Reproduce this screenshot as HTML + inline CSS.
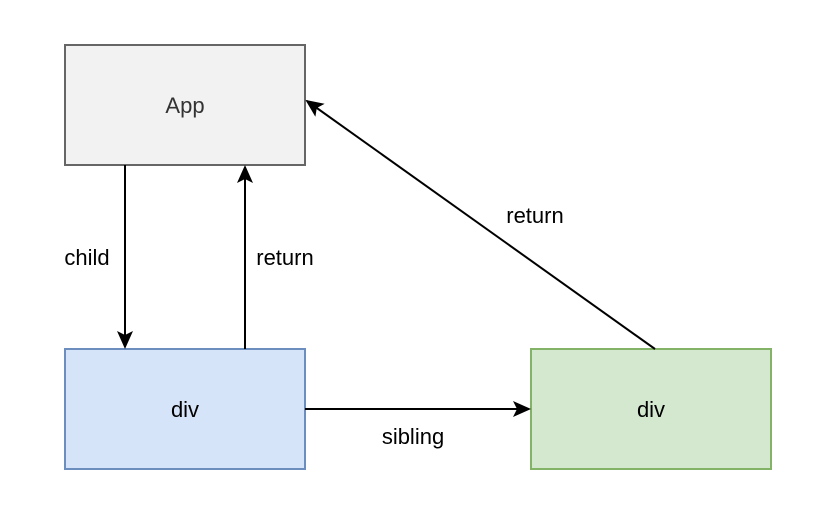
<!DOCTYPE html>
<html><head><style>body{margin:0;background:#fff}</style></head><body>
<svg width="814" height="514" xmlns="http://www.w3.org/2000/svg" font-family="Liberation Sans, Helvetica, Arial, sans-serif" font-size="22">
<defs><marker id="a" markerWidth="18" markerHeight="16" refX="16" refY="8" orient="auto" markerUnits="userSpaceOnUse"><path d="M0,0 L18,8 L0,16 L4,8 Z" fill="#000"/></marker></defs>
<rect x="65" y="45" width="240" height="120" fill="#f2f2f2" stroke="#666" stroke-width="2"/>
<text x="185" y="113" text-anchor="middle" fill="#333">App</text>
<rect x="65" y="349" width="240" height="120" fill="#d6e4fa" stroke="#6c8ebf" stroke-width="2"/>
<text x="185" y="417" text-anchor="middle" fill="#000">div</text>
<rect x="531" y="349" width="240" height="120" fill="#d4e8d0" stroke="#82b366" stroke-width="2"/>
<text x="651" y="417" text-anchor="middle" fill="#000">div</text>
<g stroke="#000" stroke-width="2" fill="none">
<line x1="125" y1="165" x2="125" y2="347" marker-end="url(#a)"/>
<line x1="245" y1="349" x2="245" y2="167" marker-end="url(#a)"/>
<line x1="305" y1="409" x2="529" y2="409" marker-end="url(#a)"/>
<line x1="655" y1="349" x2="307" y2="101" marker-end="url(#a)"/>
</g>
<text x="87" y="265" text-anchor="middle">child</text>
<text x="285" y="265" text-anchor="middle">return</text>
<text x="413" y="444" text-anchor="middle">sibling</text>
<text x="535" y="223" text-anchor="middle">return</text>
</svg>
</body></html>
